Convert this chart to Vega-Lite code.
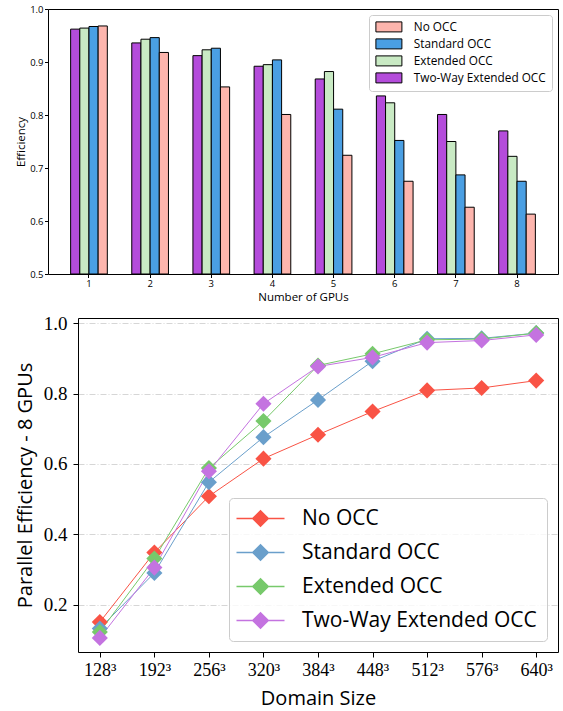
{
  "$schema": "https://vega.github.io/schema/vega-lite/v6.json",
  "background": "white",
  "padding": {"left": 15, "top": 3, "right": 3, "bottom": 3},
  "spacing": 11,
  "resolve": {"scale": {"color": "independent", "x": "independent", "y": "independent"}},
  "config": {
    "view": {"stroke": "black", "strokeWidth": 1},
    "axis": {"domainColor": "black", "tickColor": "black", "labelColor": "black", "titleColor": "black", "titleFontWeight": "normal", "tickWidth": 1}
  },
  "vconcat": [
    {
      "width": 510,
      "height": 265,
      "data": {"values": [
        {"gpus": 1, "series": "Two-Way Extended OCC", "eff": 0.962},
        {"gpus": 1, "series": "Extended OCC", "eff": 0.964},
        {"gpus": 1, "series": "Standard OCC", "eff": 0.967},
        {"gpus": 1, "series": "No OCC", "eff": 0.968},
        {"gpus": 2, "series": "Two-Way Extended OCC", "eff": 0.936},
        {"gpus": 2, "series": "Extended OCC", "eff": 0.943},
        {"gpus": 2, "series": "Standard OCC", "eff": 0.946},
        {"gpus": 2, "series": "No OCC", "eff": 0.918},
        {"gpus": 3, "series": "Two-Way Extended OCC", "eff": 0.912},
        {"gpus": 3, "series": "Extended OCC", "eff": 0.923},
        {"gpus": 3, "series": "Standard OCC", "eff": 0.926},
        {"gpus": 3, "series": "No OCC", "eff": 0.853},
        {"gpus": 4, "series": "Two-Way Extended OCC", "eff": 0.892},
        {"gpus": 4, "series": "Extended OCC", "eff": 0.895},
        {"gpus": 4, "series": "Standard OCC", "eff": 0.904},
        {"gpus": 4, "series": "No OCC", "eff": 0.801},
        {"gpus": 5, "series": "Two-Way Extended OCC", "eff": 0.868},
        {"gpus": 5, "series": "Extended OCC", "eff": 0.882},
        {"gpus": 5, "series": "Standard OCC", "eff": 0.811},
        {"gpus": 5, "series": "No OCC", "eff": 0.724},
        {"gpus": 6, "series": "Two-Way Extended OCC", "eff": 0.836},
        {"gpus": 6, "series": "Extended OCC", "eff": 0.823},
        {"gpus": 6, "series": "Standard OCC", "eff": 0.752},
        {"gpus": 6, "series": "No OCC", "eff": 0.675},
        {"gpus": 7, "series": "Two-Way Extended OCC", "eff": 0.801},
        {"gpus": 7, "series": "Extended OCC", "eff": 0.750},
        {"gpus": 7, "series": "Standard OCC", "eff": 0.687},
        {"gpus": 7, "series": "No OCC", "eff": 0.626},
        {"gpus": 8, "series": "Two-Way Extended OCC", "eff": 0.770},
        {"gpus": 8, "series": "Extended OCC", "eff": 0.722},
        {"gpus": 8, "series": "Standard OCC", "eff": 0.675},
        {"gpus": 8, "series": "No OCC", "eff": 0.613}
      ]},
      "mark": {"type": "bar", "stroke": "black", "strokeWidth": 1},
      "encoding": {
        "x": {
          "field": "gpus", "type": "ordinal",
          "scale": {"paddingInner": 0.4, "paddingOuter": 0.37},
          "axis": {"labelAngle": 0, "title": "Number of GPUs", "domain": false, "tickSize": 3.5, "labelPadding": 0.5, "labelFont": "Open Sans", "labelFontSize": 9.5, "titleFont": "Open Sans", "titleFontSize": 11.5, "titlePadding": 3.5}
        },
        "xOffset": {
          "field": "series", "type": "nominal",
          "sort": ["Two-Way Extended OCC", "Extended OCC", "Standard OCC", "No OCC"],
          "scale": {"paddingInner": 0, "paddingOuter": 0}
        },
        "y": {
          "field": "eff", "type": "quantitative",
          "scale": {"domain": [0.5, 1.0], "zero": false, "nice": false},
          "axis": {"values": [0.5, 0.6, 0.7, 0.8, 0.9, 1.0], "format": ".1f", "title": "Efficiency", "grid": false, "domain": false, "tickSize": 3.5, "labelPadding": 1.5, "labelFont": "Open Sans", "labelFontSize": 9.5, "titleFont": "Open Sans", "titleFontSize": 11.5, "titlePadding": 3}
        },
        "y2": {"datum": 0.5},
        "color": {
          "field": "series", "type": "nominal",
          "scale": {"domain": ["No OCC", "Standard OCC", "Extended OCC", "Two-Way Extended OCC"], "range": ["#fdb5ad", "#4a9fe3", "#c9eac4", "#b44cdb"]},
          "legend": {"title": null, "orient": "top-right", "offset": 6, "fillColor": "rgba(255,255,255,0.8)", "strokeColor": "#cccccc", "cornerRadius": 3, "padding": 6, "symbolType": "M-1,-1H4.2V1H-1Z", "symbolSize": 100, "symbolStrokeColor": "black", "symbolStrokeWidth": 1, "symbolOpacity": 1, "labelFont": "Open Sans", "labelFontSize": 11.8, "labelColor": "black", "labelOffset": 27, "rowPadding": 2, "labelLimit": 300}
        }
      }
    },
    {
      "width": 510,
      "height": 334,
      "view": {"stroke": null},
      "data": {"values": [
        {"size": "128³", "series": "No OCC", "eff": 0.150},
        {"size": "192³", "series": "No OCC", "eff": 0.348},
        {"size": "256³", "series": "No OCC", "eff": 0.508},
        {"size": "320³", "series": "No OCC", "eff": 0.615},
        {"size": "384³", "series": "No OCC", "eff": 0.683},
        {"size": "448³", "series": "No OCC", "eff": 0.749},
        {"size": "512³", "series": "No OCC", "eff": 0.809},
        {"size": "576³", "series": "No OCC", "eff": 0.816},
        {"size": "640³", "series": "No OCC", "eff": 0.837},
        {"size": "128³", "series": "Standard OCC", "eff": 0.132},
        {"size": "192³", "series": "Standard OCC", "eff": 0.290},
        {"size": "256³", "series": "Standard OCC", "eff": 0.548},
        {"size": "320³", "series": "Standard OCC", "eff": 0.676},
        {"size": "384³", "series": "Standard OCC", "eff": 0.782},
        {"size": "448³", "series": "Standard OCC", "eff": 0.892},
        {"size": "512³", "series": "Standard OCC", "eff": 0.956},
        {"size": "576³", "series": "Standard OCC", "eff": 0.957},
        {"size": "640³", "series": "Standard OCC", "eff": 0.972},
        {"size": "128³", "series": "Extended OCC", "eff": 0.122},
        {"size": "192³", "series": "Extended OCC", "eff": 0.331},
        {"size": "256³", "series": "Extended OCC", "eff": 0.588},
        {"size": "320³", "series": "Extended OCC", "eff": 0.722},
        {"size": "384³", "series": "Extended OCC", "eff": 0.880},
        {"size": "448³", "series": "Extended OCC", "eff": 0.913},
        {"size": "512³", "series": "Extended OCC", "eff": 0.953},
        {"size": "576³", "series": "Extended OCC", "eff": 0.955},
        {"size": "640³", "series": "Extended OCC", "eff": 0.972},
        {"size": "128³", "series": "Two-Way Extended OCC", "eff": 0.105},
        {"size": "192³", "series": "Two-Way Extended OCC", "eff": 0.305},
        {"size": "256³", "series": "Two-Way Extended OCC", "eff": 0.579},
        {"size": "320³", "series": "Two-Way Extended OCC", "eff": 0.771},
        {"size": "384³", "series": "Two-Way Extended OCC", "eff": 0.877},
        {"size": "448³", "series": "Two-Way Extended OCC", "eff": 0.903},
        {"size": "512³", "series": "Two-Way Extended OCC", "eff": 0.945},
        {"size": "576³", "series": "Two-Way Extended OCC", "eff": 0.951},
        {"size": "640³", "series": "Two-Way Extended OCC", "eff": 0.967}
      ]},
      "layer": [
        {
          "mark": {"type": "line", "strokeWidth": 1},
          "encoding": {
            "x": {
              "field": "size", "type": "ordinal",
              "scale": {"type": "point", "domain": ["128³", "192³", "256³", "320³", "384³", "448³", "512³", "576³", "640³"], "range": [30, 510], "padding": 0.4},
              "axis": {"orient": "bottom", "title": "Domain Size", "labelAngle": 0, "tickSize": 5, "labelPadding": 4, "labelFont": "Liberation Serif", "labelFontSize": 18, "titleFont": "Open Sans", "titleFontSize": 20, "titlePadding": 9, "grid": false}
            },
            "y": {
              "field": "eff", "type": "quantitative",
              "scale": {"domain": [0.065, 1.015], "zero": false, "nice": false},
              "axis": {"orient": "left", "offset": -30, "values": [0.2, 0.4, 0.6, 0.8, 1.0], "format": ".1f", "title": "Parallel Efficiency - 8 GPUs", "grid": true, "gridColor": "#cccccc", "gridDash": [6, 2, 1, 2], "gridWidth": 0.8, "tickSize": 5, "labelPadding": 6, "labelFont": "Liberation Serif", "labelFontSize": 19, "titleFont": "Open Sans", "titleFontSize": 20, "titlePadding": 8}
            },
            "color": {
              "field": "series", "type": "nominal",
              "scale": {"domain": ["No OCC", "Standard OCC", "Extended OCC", "Two-Way Extended OCC"], "range": ["#f95345", "#6a9fcb", "#77c96b", "#c473e0"]}
            }
          }
        },
        {
          "mark": {"type": "point", "shape": "diamond", "filled": true, "size": 260, "opacity": 1},
          "encoding": {
            "x": {
              "field": "size", "type": "ordinal",
              "scale": {"type": "point", "domain": ["128³", "192³", "256³", "320³", "384³", "448³", "512³", "576³", "640³"], "range": [30, 510], "padding": 0.4},
              "axis": {"orient": "top", "labels": false, "ticks": false, "title": null, "grid": false}
            },
            "y": {
              "field": "eff", "type": "quantitative",
              "scale": {"domain": [0.065, 1.015], "zero": false, "nice": false},
              "axis": {"orient": "right", "labels": false, "ticks": false, "title": null, "grid": false}
            },
            "color": {
              "field": "series", "type": "nominal",
              "scale": {"domain": ["No OCC", "Standard OCC", "Extended OCC", "Two-Way Extended OCC"], "range": ["#f95345", "#6a9fcb", "#77c96b", "#c473e0"]},
              "legend": {"title": null, "orient": "bottom-right", "offset": 11, "fillColor": "rgba(255,255,255,0.8)", "strokeColor": "#cccccc", "cornerRadius": 4, "padding": 10, "symbolType": "M-2.6,-0.14H0.8V0.14H-2.6ZM3.6,-0.14H7.0V0.14H3.6ZM0.44,0L2.2,-1.76L3.96,0L2.2,1.76Z", "symbolSize": 100, "symbolStrokeWidth": 0, "symbolOpacity": 1, "labelFont": "Open Sans", "labelFontSize": 21, "labelColor": "black", "labelOffset": 42, "rowPadding": 12, "labelLimit": 400}
            }
          }
        }
      ]
    }
  ]
}
